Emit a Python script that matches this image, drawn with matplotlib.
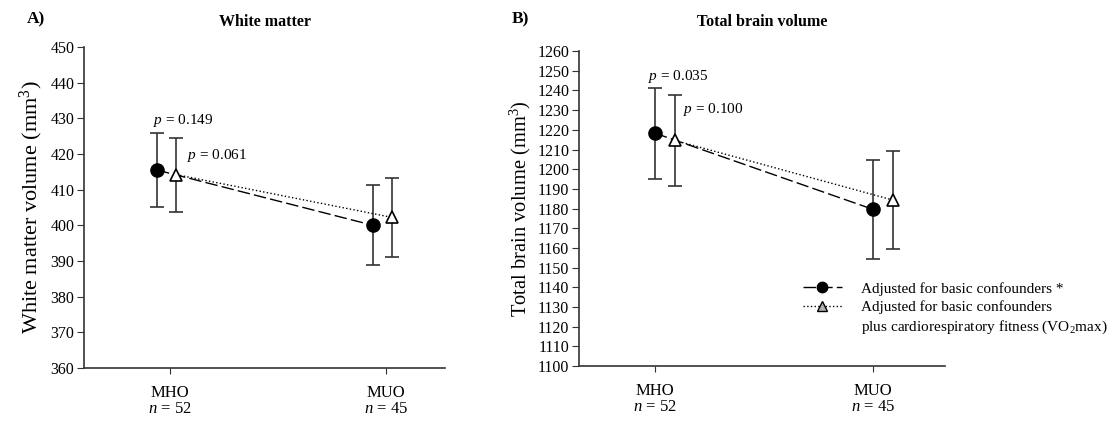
#!/usr/bin/env python3
"""Brain volume by metabolic phenotype (MHO vs MUO), two adjustment models."""

import matplotlib

matplotlib.use("Agg")
import matplotlib.pyplot as plt
from matplotlib.lines import Line2D

plt.rcParams["font.family"] = ["Liberation Serif", "DejaVu Serif"]
plt.rcParams["mathtext.fontset"] = "custom"
plt.rcParams["mathtext.rm"] = "Liberation Serif"
plt.rcParams["mathtext.it"] = "Liberation Serif:italic"

# ------------------------------------------------------------------ #
# Data
# ------------------------------------------------------------------ #
groups = ["MHO\n$n$ = 52", "MUO\n$n$ = 45"]

wm_basic = [415.5, 400.0]
wm_basic_err = [10.5, 11.2]
wm_fit = [414.2, 402.2]
wm_fit_err = [10.4, 11.2]
wm_pvals = ["$p$ = 0.149", "$p$ = 0.061"]
wm_ticks = list(range(360, 451, 10))

tbv_basic = [1218.3, 1179.6]
tbv_basic_err = [23.2, 25.3]
tbv_fit = [1214.6, 1184.3]
tbv_fit_err = [23.2, 25.0]
tbv_pvals = ["$p$ = 0.035", "$p$ = 0.100"]
tbv_ticks = list(range(1100, 1261, 10))

legend_labels = [
    "Adjusted for basic confounders *",
    "Adjusted for basic confounders",
    "plus cardiorespiratory fitness (VO$_2$max)",
]

DASH = (0, (9, 3))
AXC = "#333333"


def draw_panel(ax, basic, basic_err, fit, fit_err, off_b, off_f):
    xs = [1, 2]
    xb = [x + off_b for x in xs]
    xf = [x + off_f for x in xs]
    ax.errorbar(xb, basic, yerr=basic_err, fmt="none", ecolor=AXC,
                elinewidth=1.2, capsize=5, capthick=1.2, zorder=2)
    ax.errorbar(xf, fit, yerr=fit_err, fmt="none", ecolor=AXC,
                elinewidth=1.2, capsize=5, capthick=1.2, zorder=2)
    ax.plot(xb, basic, ls=DASH, color="black", lw=1.0, zorder=3)
    ax.plot(xf, fit, ls=":", color="black", lw=1.0, zorder=3)
    ax.plot(xb, basic, "o", color="black", ms=9.5, ls="none", zorder=4)
    ax.plot(xf, fit, "^", mfc="white", mec="black", mew=1.2, ms=8.5,
            ls="none", zorder=5)
    return xb, xf


def style_axes(ax, ticks, xlim):
    ax.set_xlim(*xlim)
    ax.set_ylim(ticks[0], ticks[-1])
    ax.set_yticks(ticks)
    ax.set_xticks([1, 2])
    ax.set_xticklabels(groups, fontsize=12, linespacing=1.0)
    for side in ("top", "right"):
        ax.spines[side].set_visible(False)
    for side in ("left", "bottom"):
        ax.spines[side].set_color(AXC)
        ax.spines[side].set_linewidth(1.2)
    ax.tick_params(axis="y", labelsize=11.5, length=5, color=AXC, pad=2)
    ax.tick_params(axis="x", length=4, color=AXC, pad=8)


fig = plt.figure(figsize=(11.14, 4.21), dpi=100)

# ------------------------------------------------------------------ #
# A) White matter
# ------------------------------------------------------------------ #
ax1 = fig.add_axes([0.0754, 0.1259, 0.324, 0.7625])
xb, xf = draw_panel(ax1, wm_basic, wm_basic_err, wm_fit, wm_fit_err, -0.06, 0.03)
style_axes(ax1, wm_ticks, (0.602, 2.273))
ax1.set_ylabel("White matter volume (mm$^3$)", fontsize=16, labelpad=4)
ax1.text(xb[0] - 0.02, wm_basic[0] + wm_basic_err[0] + 1.0, wm_pvals[0],
         fontsize=11, ha="left", va="bottom")
ax1.text(xf[0] + 0.05, wm_fit[0] + 5.5, wm_pvals[1],
         fontsize=11, ha="left", va="center")

# ------------------------------------------------------------------ #
# B) Total brain volume
# ------------------------------------------------------------------ #
ax2 = fig.add_axes([0.5197, 0.1306, 0.3285, 0.748])
xb, xf = draw_panel(ax2, tbv_basic, tbv_basic_err, tbv_fit, tbv_fit_err, 0.0, 0.092)
style_axes(ax2, tbv_ticks, (0.651, 2.330))
ax2.set_ylabel("Total brain volume (mm$^3$)", fontsize=14.8, labelpad=3)
ax2.text(xb[0] - 0.03, tbv_basic[0] + tbv_basic_err[0] + 1.5, tbv_pvals[0],
         fontsize=11, ha="left", va="bottom")
ax2.text(xf[0] + 0.035, tbv_fit[0] + 15.5, tbv_pvals[1],
         fontsize=11, ha="left", va="center")

handles = [
    Line2D([], [], ls=DASH, color="black", lw=1.0, marker="o", ms=7.5),
    Line2D([], [], ls=":", color="black", lw=1.0, marker="^", ms=7,
           mfc="#b0b0b0", mec="black"),
    Line2D([], [], ls="none", marker=None),
]
fig.legend(handles, legend_labels, loc="upper left",
           bbox_to_anchor=(0.715, 0.345), frameon=False, fontsize=11,
           handlelength=2.6, handletextpad=1.2, labelspacing=0.3,
           borderaxespad=0)

# panel titles and letters
fig.text(0.238, 0.948, "White matter", fontsize=11.5, fontweight="bold",
         ha="center", va="center")
fig.text(0.684, 0.948, "Total brain volume", fontsize=11.5, fontweight="bold",
         ha="center", va="center")
fig.text(0.024, 0.955, "A)", fontsize=12.5, fontweight="bold", va="center")
fig.text(0.459, 0.955, "B)", fontsize=12.5, fontweight="bold", va="center")

fig.savefig("out.png", dpi=100)
